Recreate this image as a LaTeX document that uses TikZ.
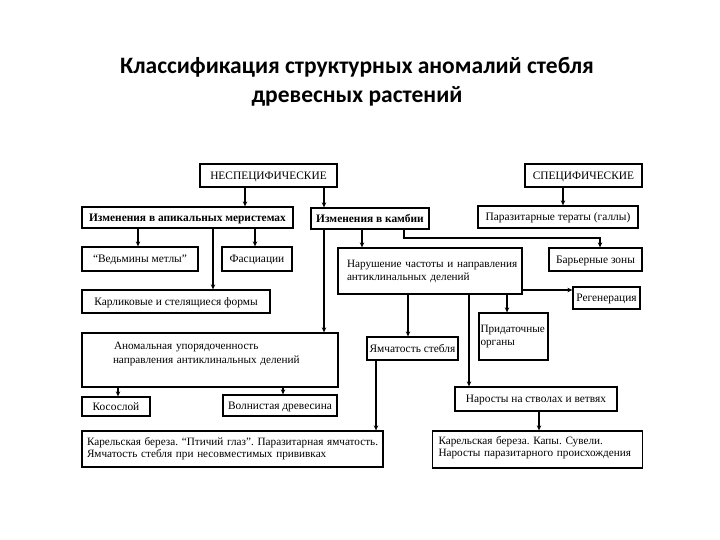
\documentclass[tikz,border=0pt]{standalone}
\usepackage{fontspec}
\setmainfont{Liberation Serif}
\newfontfamily\titlefont{Carlito}
\usetikzlibrary{arrows.meta}
\frenchspacing
\begin{document}
\frenchspacing
\begin{tikzpicture}[x=1pt,y=-1pt,
  frame/.style={draw=black, line width=1.3pt, inner sep=0pt, text=black,
    font=\fontsize{11.4}{12.5}\selectfont},
  box/.style={frame, text height=9pt, text depth=1.5pt},
  bbox/.style={box, font=\fontsize{11.4}{12.5}\selectfont\bfseries},
  lbox/.style={frame, align=left, text width=#1, font=\fontsize{11.2}{12.5}\selectfont},
  arr/.style={line width=1.1pt, -{Stealth[length=5pt,width=4.5pt]}},
  ttl/.style={font=\titlefont\bfseries\fontsize{23.5}{29.5}\selectfont, align=center, text=black}]
\useasboundingbox (0,0) rectangle (720,540);
\fill[white] (0,0) rectangle (720,540);

\node[ttl] (title) at (357,82) {Классификация структурных аномалий стебля\\древесных растений};

\node[box, minimum width=137pt, minimum height=23pt] (nesp) at (268.5,175.5) {НЕСПЕЦИФИЧЕСКИЕ};
\node[box, minimum width=117pt, minimum height=23pt] (spec) at (583.5,175.5) {СПЕЦИФИЧЕСКИЕ};

\node[bbox, minimum width=211pt, minimum height=21pt] (apic) at (187.5,217.5) {Изменения в апикальных меристемах};
\node[bbox, minimum width=118pt, minimum height=21pt] (camb) at (370,218.5) {Изменения в камбии};
\node[box, minimum width=160pt, minimum height=22pt] (paras) at (558,217) {Паразитарные тераты (галлы)};

\node[box, minimum width=116pt, minimum height=24pt] (vedm) at (140,259) {“Ведьмины метлы”};
\node[box, minimum width=70pt, minimum height=24pt] (fasc) at (257,259) {Фасциации};
\node[box, minimum width=188pt, minimum height=23pt] (karl) at (176,301.5) {Карликовые и стелящиеся формы};

\node[lbox=184pt, minimum height=46pt, text height=9pt, text depth=15.3pt] (narush) at (430,271)
  {\hspace*{9pt}\mbox{Нарушение частоты и направления}\\\hspace*{9pt}\mbox{антиклинальных делений}};
\node[box, minimum width=93pt, minimum height=23pt] (barr) at (595.5,259.5) {Барьерные зоны};
\node[box, minimum width=67pt, minimum height=22pt] (regen) at (606.5,298) {Регенерация};

\node[lbox=69pt, minimum height=47pt, text height=9pt, text depth=16.3pt] (prid) at (513.5,336.5)
  {\hspace*{1.5pt}\mbox{Придаточные}\\\hspace*{1.5pt}\mbox{органы}};
\node[box, minimum width=91pt, minimum height=23pt] (yamch) at (412.5,348.5) {Ямчатость стебля};

\node[lbox=256pt, minimum height=54pt, text height=9pt, text depth=29.5pt,
  font=\fontsize{11.2}{14}\selectfont] (anom) at (210,360)
  {\hspace*{32pt}\mbox{Аномальная упорядоченность}\\\hspace*{31pt}\mbox{направления антиклинальных делений}};
\node[box, minimum width=68pt, minimum height=19pt] (kosos) at (116,406.5) {Косослой};
\node[box, minimum width=114pt, minimum height=21pt] (voln) at (280,405.5) {Волнистая древесина};
\node[box, minimum width=162pt, minimum height=24pt] (naros) at (536,399) {Наросты на стволах и ветвях};

\node[lbox=301pt, minimum height=36pt, text height=9pt, text depth=16.3pt] (karelL) at (232.5,449)
  {\hspace*{5pt}\mbox{Карельская береза. “Птичий глаз”. Паразитарная ямчатость.}\\\hspace*{5pt}\mbox{Ямчатость стебля при несовместимых прививках}};
\node[lbox=210pt, minimum height=37pt, text height=9pt, text depth=19.5pt] (karelR) at (537.5,449.5)
  {\hspace*{6pt}\mbox{Карельская береза. Капы. Сувели.}\\\hspace*{6pt}\mbox{Наросты паразитарного происхождения}};

% connectors
\draw[arr] (245,0 |- nesp.south) -- (245,0 |- apic.north);
\draw[arr] (324,0 |- nesp.south) -- (324,0 |- camb.north);
\draw[arr] (563,0 |- spec.south) -- (563,0 |- paras.north);

\draw[arr] (138,0 |- apic.south) -- (138,0 |- vedm.north);
\draw[arr] (255,0 |- apic.south) -- (255,0 |- fasc.north);
\draw[arr] (213,0 |- apic.south) -- (213,0 |- karl.north);

\draw[arr] (324,0 |- camb.south) -- (324,0 |- anom.north);
\draw[arr] (362,0 |- camb.south) -- (362,0 |- narush.north);
\draw[arr] (404,0 |- camb.south) -- (404,238) -- (600,238) -- (600,0 |- barr.north);

\draw[arr] (narush.east |- 0,290) -- (regen.west |- 0,290);
\draw[arr] (507,0 |- narush.south) -- (507,0 |- prid.north);
\draw[arr] (408,0 |- narush.south) -- (408,0 |- yamch.north);
\draw[arr] (469,0 |- narush.south) -- (469,0 |- naros.north);

\draw[arr] (118,0 |- anom.south) -- (118,0 |- kosos.north);
\draw[arr] (283,0 |- anom.south) -- (283,0 |- voln.north);
\draw[arr] (376,0 |- yamch.south) -- (376,0 |- karelL.north);
\draw[arr] (539,0 |- naros.south) -- (539,0 |- karelR.north);
\end{tikzpicture}
\end{document}
